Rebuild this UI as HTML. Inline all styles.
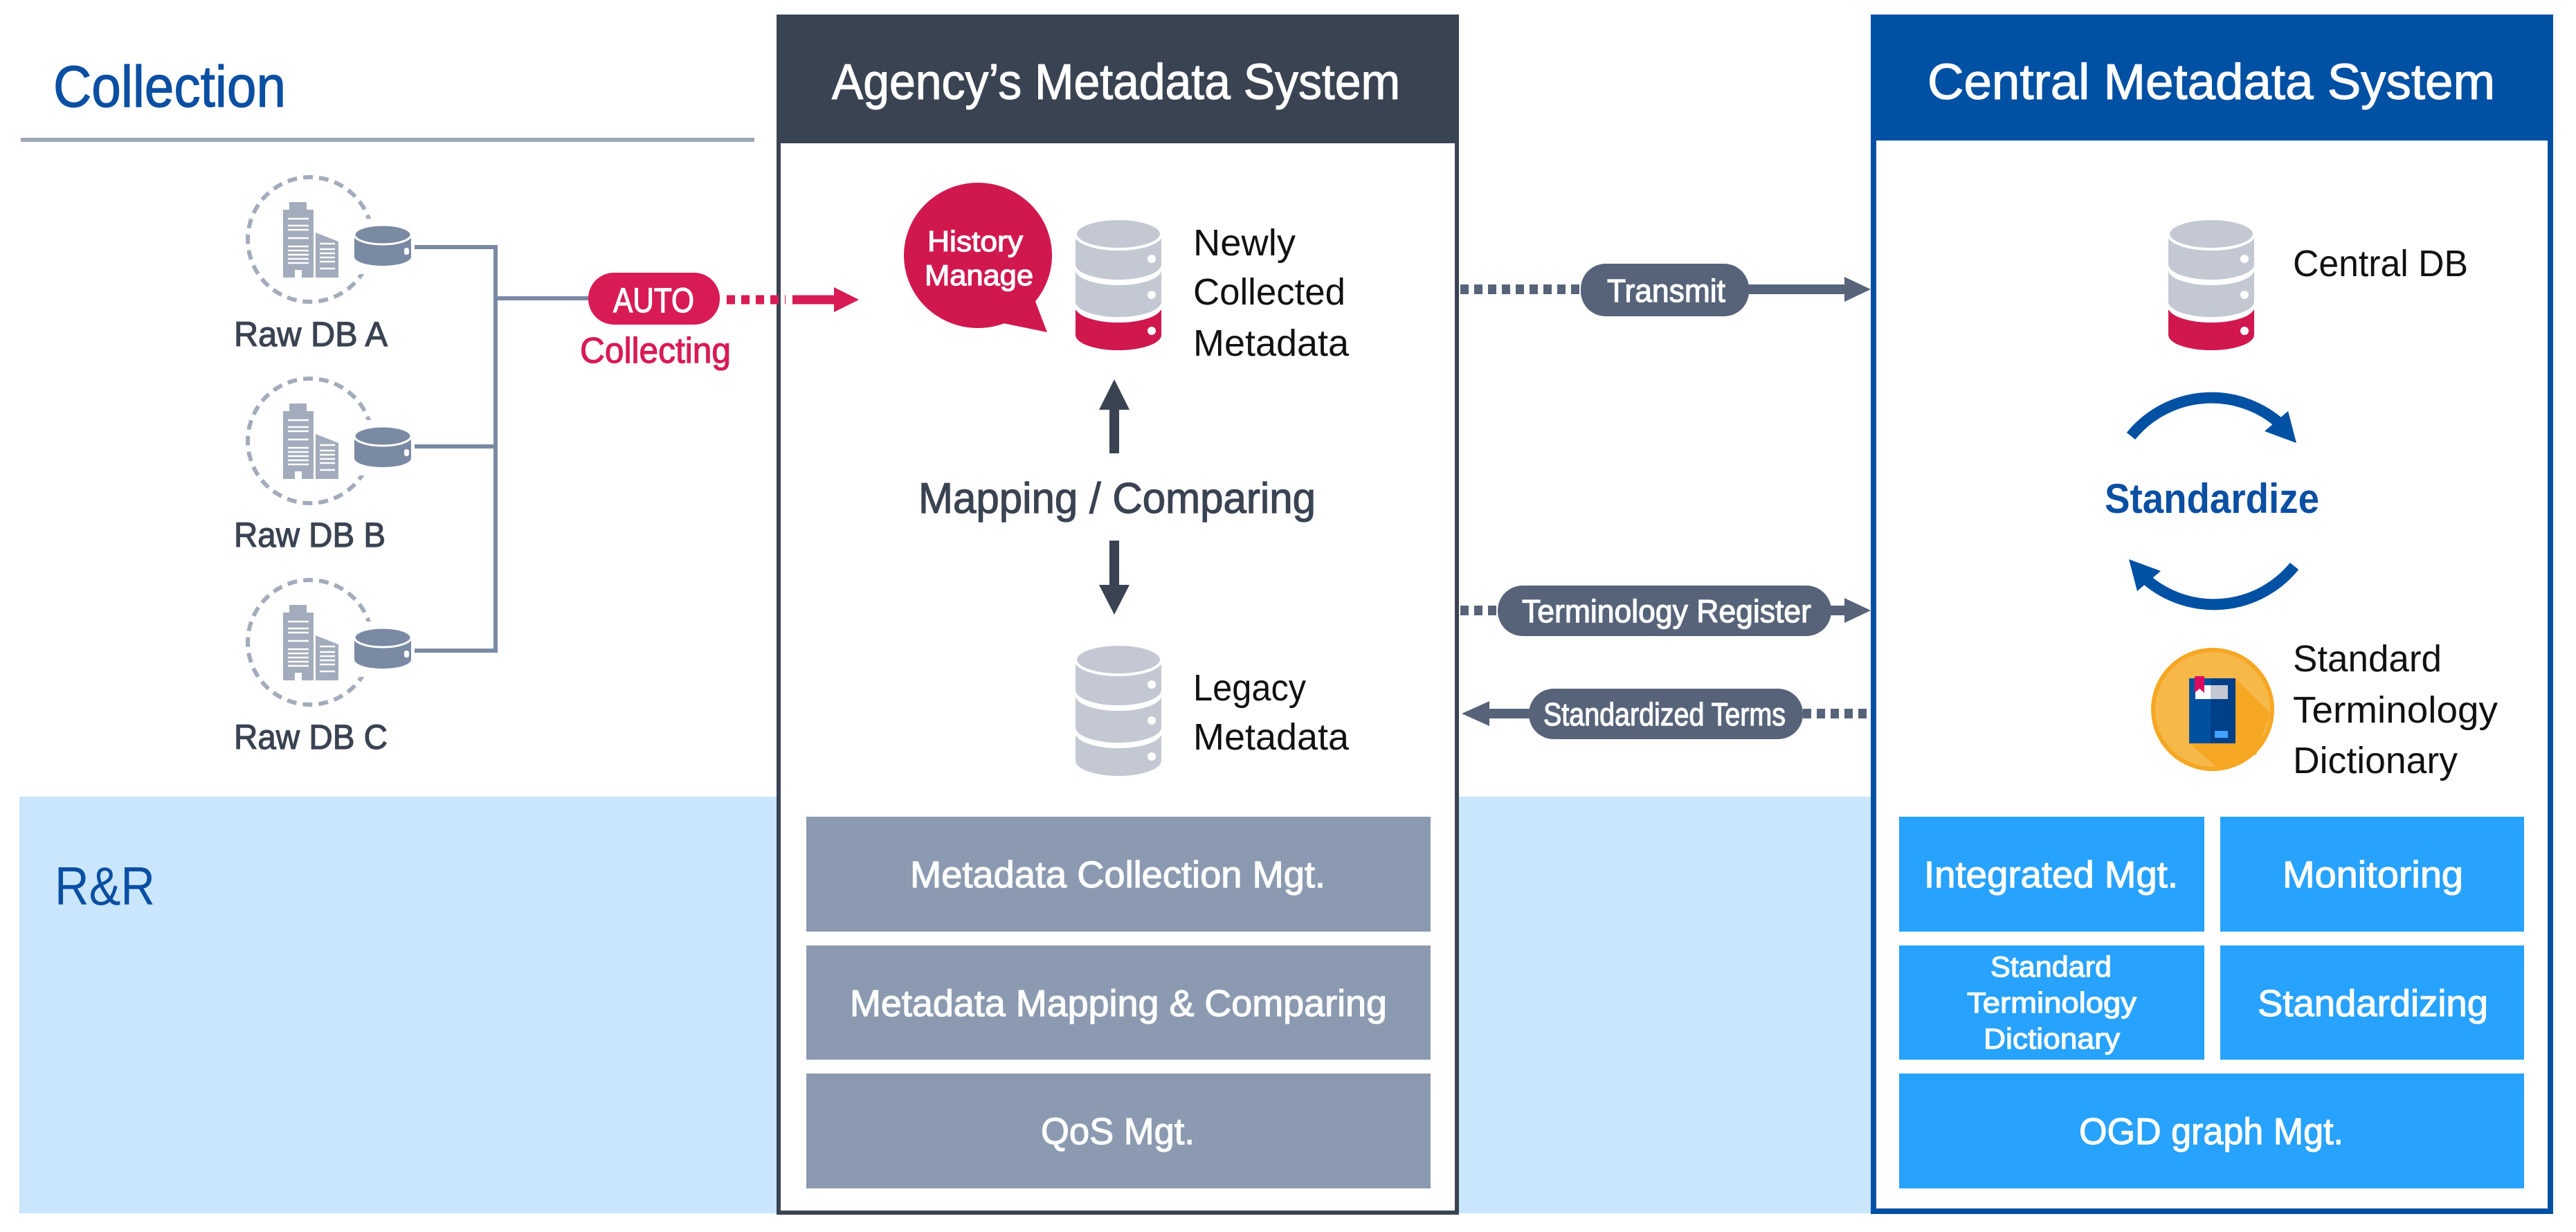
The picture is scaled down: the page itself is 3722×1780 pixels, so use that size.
<!DOCTYPE html>
<html><head><meta charset="utf-8"><style>
html,body{margin:0;padding:0;background:#fff;}
svg{display:block;}
text{font-family:"Liberation Sans",sans-serif;stroke-width:1.2px;}
</style></head><body>
<svg width="3722" height="1780" viewBox="0 0 3722 1780" xmlns="http://www.w3.org/2000/svg">
<defs>
<symbol id="db" viewBox="0 0 124 190" overflow="visible">
  <rect x="0" y="132" width="124" height="36" fill="#d0184f"/>
  <ellipse cx="62" cy="168" rx="62" ry="22" fill="#d0184f"/>
  <ellipse cx="62" cy="128" rx="62" ry="22" fill="#fff"/>
  <rect x="0" y="72" width="124" height="50" fill="#c3c8d2"/>
  <ellipse cx="62" cy="120" rx="62" ry="22" fill="#c3c8d2"/>
  <ellipse cx="62" cy="74" rx="62" ry="22" fill="#fff"/>
  <rect x="0" y="22" width="124" height="44" fill="#c3c8d2"/>
  <ellipse cx="62" cy="66" rx="62" ry="22" fill="#c3c8d2"/>
  <ellipse cx="62" cy="22" rx="62" ry="22" fill="#c3c8d2" stroke="#fff" stroke-width="4"/>
  <circle cx="110" cy="58" r="6" fill="#fff"/>
  <circle cx="110" cy="110" r="6" fill="#fff"/>
  <circle cx="110" cy="162" r="6" fill="#fff"/>
</symbol>
<symbol id="dbg" viewBox="0 0 124 190" overflow="visible">
  <rect x="0" y="132" width="124" height="36" fill="#c3c8d2"/>
  <ellipse cx="62" cy="168" rx="62" ry="22" fill="#c3c8d2"/>
  <ellipse cx="62" cy="128" rx="62" ry="22" fill="#fff"/>
  <rect x="0" y="72" width="124" height="50" fill="#c3c8d2"/>
  <ellipse cx="62" cy="120" rx="62" ry="22" fill="#c3c8d2"/>
  <ellipse cx="62" cy="74" rx="62" ry="22" fill="#fff"/>
  <rect x="0" y="22" width="124" height="44" fill="#c3c8d2"/>
  <ellipse cx="62" cy="66" rx="62" ry="22" fill="#c3c8d2"/>
  <ellipse cx="62" cy="22" rx="62" ry="22" fill="#c3c8d2" stroke="#fff" stroke-width="4"/>
  <circle cx="110" cy="58" r="6" fill="#fff"/>
  <circle cx="110" cy="110" r="6" fill="#fff"/>
  <circle cx="110" cy="162" r="6" fill="#fff"/>
</symbol>
<g id="raw">
  <circle cx="0" cy="0" r="90" fill="none" stroke="#a3acbc" stroke-width="6" stroke-dasharray="14 9"/>
  <rect x="54" y="-30" width="100" height="80" fill="#fff"/>
  <rect x="-30" y="-54" width="25" height="12" fill="#a3acbc"/>
  <rect x="-39" y="-43" width="44" height="98" fill="#a3acbc"/>
  <polygon points="8,-10 41,3 41,55 8,55" fill="#a3acbc"/>
  <g stroke="#fff" stroke-width="2.5">
    <line x1="-32" y1="-30" x2="-2" y2="-30"/><line x1="-32" y1="-20" x2="-2" y2="-20"/>
    <line x1="-32" y1="-14" x2="-2" y2="-14"/><line x1="-32" y1="-2" x2="-2" y2="-2"/>
    <line x1="-32" y1="10" x2="-2" y2="10"/><line x1="-32" y1="16" x2="-2" y2="16"/>
    <line x1="-32" y1="22" x2="-2" y2="22"/><line x1="-32" y1="28" x2="-2" y2="28"/>
    <line x1="-32" y1="34" x2="-2" y2="34"/>
    <line x1="14" y1="6" x2="36" y2="6"/><line x1="14" y1="14" x2="36" y2="14"/>
    <line x1="14" y1="20" x2="36" y2="20"/><line x1="14" y1="26" x2="36" y2="26"/>
    <line x1="14" y1="32" x2="36" y2="32"/><line x1="14" y1="42" x2="36" y2="42"/>
  </g>
  <rect x="-22" y="44" width="10" height="12" fill="#fff"/>
  <rect x="64" y="-7" width="82" height="32" fill="#7a8aa3"/>
  <ellipse cx="105" cy="25" rx="41" ry="13" fill="#7a8aa3"/>
  <ellipse cx="105" cy="-7" rx="41" ry="14" fill="#7a8aa3" stroke="#fff" stroke-width="3"/>
  <rect x="136" y="12" width="7" height="10" rx="3" fill="#fff"/>
</g>
</defs>

<rect x="28" y="1151" width="2675" height="602" fill="#c9e6fc"/>
<rect x="30" y="199" width="1060" height="6" fill="#a0a8b8"/>
<text x="77" y="154" font-size="84" fill="#0b4fa3" stroke="#0b4fa3" textLength="336" lengthAdjust="spacingAndGlyphs">Collection</text>
<text x="79" y="1307" font-size="78" fill="#0b4fa3" textLength="145" lengthAdjust="spacingAndGlyphs">R&amp;R</text>

<use href="#raw" x="448" y="346"/>
<use href="#raw" x="448" y="637"/>
<use href="#raw" x="448" y="928"/>
<g fill="#3a4352" stroke="#3a4352" font-size="50">
<text x="338" y="500" textLength="222" lengthAdjust="spacingAndGlyphs">Raw DB A</text>
<text x="338" y="790" textLength="219" lengthAdjust="spacingAndGlyphs">Raw DB B</text>
<text x="338" y="1082" textLength="222" lengthAdjust="spacingAndGlyphs">Raw DB C</text>
</g>
<g stroke="#7a8aa3" stroke-width="6" fill="none">
<polyline points="599,357 716,357 716,940 599,940"/>
<line x1="599" y1="645" x2="716" y2="645"/>
<line x1="716" y1="431" x2="855" y2="431"/>
</g>
<rect x="850" y="394" width="190" height="75" rx="37" fill="#d81b55"/>
<text x="886" y="451" font-size="50" fill="#fff" stroke="#fff" textLength="117" lengthAdjust="spacingAndGlyphs">AUTO</text>
<text x="838" y="524" font-size="52" fill="#d81b55" stroke="#d81b55" textLength="218" lengthAdjust="spacingAndGlyphs">Collecting</text>

<rect x="1125" y="24" width="980" height="1728" fill="#fff" stroke="#3a4352" stroke-width="6"/>
<rect x="1122" y="21" width="986" height="186" fill="#3a4352"/>
<text x="1202" y="143" font-size="72" fill="#fff" stroke="#fff" textLength="821" lengthAdjust="spacingAndGlyphs">Agency’s Metadata System</text>

<line x1="1050" y1="433" x2="1135" y2="433" stroke="#d81b55" stroke-width="13" stroke-dasharray="12 9"/>
<line x1="1145" y1="433" x2="1210" y2="433" stroke="#d81b55" stroke-width="13"/>
<polygon points="1205,415 1241,433 1205,451" fill="#d81b55"/>

<ellipse cx="1413" cy="369" rx="107" ry="105" fill="#d0184f"/>
<polygon points="1440,465 1513,480 1490,420" fill="#d0184f"/>
<text x="1340" y="363" font-size="42" fill="#fff" stroke="#fff" textLength="138" lengthAdjust="spacingAndGlyphs">History</text>
<text x="1336" y="412" font-size="42" fill="#fff" stroke="#fff" textLength="157" lengthAdjust="spacingAndGlyphs">Manage</text>
<use href="#db" x="1554" y="316" width="124" height="190"/>
<g font-size="54" fill="#111">
<text x="1724" y="369" textLength="148" lengthAdjust="spacingAndGlyphs">Newly</text>
<text x="1724" y="440" textLength="220" lengthAdjust="spacingAndGlyphs">Collected</text>
<text x="1724" y="514" textLength="225" lengthAdjust="spacingAndGlyphs">Metadata</text>
<text x="1724" y="1012" textLength="163" lengthAdjust="spacingAndGlyphs">Legacy</text>
<text x="1724" y="1083" textLength="225" lengthAdjust="spacingAndGlyphs">Metadata</text>
</g>
<rect x="1603" y="585" width="14" height="70" fill="#3a4352"/>
<polygon points="1588,592 1610,548 1632,592" fill="#3a4352"/>
<text x="1327" y="741" font-size="62" fill="#3a4352" stroke="#3a4352" textLength="574" lengthAdjust="spacingAndGlyphs">Mapping / Comparing</text>
<rect x="1603" y="781" width="14" height="68" fill="#3a4352"/>
<polygon points="1588,845 1632,845 1610,888" fill="#3a4352"/>
<use href="#dbg" x="1554" y="931" width="124" height="190"/>

<g fill="#8b9ab0">
<rect x="1165" y="1180" width="902" height="166"/>
<rect x="1165" y="1366" width="902" height="165"/>
<rect x="1165" y="1551" width="902" height="166"/>
</g>
<g font-size="54" fill="#fff" stroke="#fff">
<text x="1315" y="1282" textLength="600" lengthAdjust="spacingAndGlyphs">Metadata Collection Mgt.</text>
<text x="1228" y="1468" textLength="776" lengthAdjust="spacingAndGlyphs">Metadata Mapping &amp; Comparing</text>
<text x="1504" y="1653" textLength="222" lengthAdjust="spacingAndGlyphs">QoS Mgt.</text>
</g>

<g stroke="#566379" stroke-width="14">
<line x1="2110" y1="418" x2="2290" y2="418" stroke-dasharray="12 8"/>
<line x1="2520" y1="418" x2="2670" y2="418"/>
<line x1="2110" y1="882" x2="2170" y2="882" stroke-dasharray="12 8"/>
<line x1="2640" y1="882" x2="2670" y2="882"/>
<line x1="2150" y1="1031" x2="2215" y2="1031"/>
<line x1="2605" y1="1031" x2="2703" y2="1031" stroke-dasharray="12 8"/>
</g>
<g fill="#566379">
<polygon points="2665,400 2703,418 2665,436"/>
<polygon points="2665,864 2703,882 2665,900"/>
<polygon points="2152,1013 2112,1031 2152,1049"/>
<rect x="2284" y="381" width="243" height="76" rx="36"/>
<rect x="2164" y="846" width="482" height="73" rx="36"/>
<rect x="2209" y="995" width="396" height="73" rx="36"/>
</g>
<g font-size="46" fill="#fff" stroke="#fff">
<text x="2322" y="436" textLength="171" lengthAdjust="spacingAndGlyphs">Transmit</text>
<text x="2199" y="899" textLength="418" lengthAdjust="spacingAndGlyphs">Terminology Register</text>
<text x="2230" y="1048" textLength="350" lengthAdjust="spacingAndGlyphs">Standardized Terms</text>
</g>

<rect x="2707" y="25" width="978" height="1725" fill="#fff" stroke="#0050a4" stroke-width="8"/>
<rect x="2703" y="21" width="986" height="182" fill="#0050a4"/>
<text x="2785" y="143" font-size="72" fill="#fff" stroke="#fff" textLength="820" lengthAdjust="spacingAndGlyphs">Central Metadata System</text>
<use href="#db" x="3133" y="316" width="124" height="190"/>
<text x="3313" y="399" font-size="54" fill="#111" textLength="253" lengthAdjust="spacingAndGlyphs">Central DB</text>

<g fill="none" stroke="#0050a4" stroke-width="16">
<path d="M3079,630 A150,150 0 0 1 3292,610"/>
<path d="M3315,818 A150,150 0 0 1 3102,838"/>
</g>
<polygon points="3272,623 3306,594 3318,640" fill="#0050a4"/>
<polygon points="3122,825 3088,854 3076,808" fill="#0050a4"/>
<text x="3041" y="741" font-size="60" font-weight="bold" fill="#0b4fa3" textLength="310" lengthAdjust="spacingAndGlyphs">Standardize</text>

<circle cx="3197" cy="1025" r="86" fill="#f7b84a" stroke="#f6a723" stroke-width="6"/>
<polygon points="3230,980 3280,1030 3260,1090 3205,1110 3163,1074 3230,1074" fill="#f6a723"/>
<rect x="3163" y="980" width="31" height="94" fill="#0050a0"/>
<rect x="3194" y="980" width="36" height="94" fill="#004088"/>
<rect x="3172" y="990" width="47" height="20" fill="#c3c8d2"/>
<rect x="3172" y="990" width="22" height="20" fill="#fff"/>
<polygon points="3171,977 3185,977 3185,1001 3178,995 3171,1001" fill="#dc0a5e"/>
<rect x="3200" y="1056" width="19" height="10" fill="#3fa2ff"/>
<g font-size="54" fill="#111">
<text x="3313" y="970" textLength="215" lengthAdjust="spacingAndGlyphs">Standard</text>
<text x="3313" y="1044" textLength="296" lengthAdjust="spacingAndGlyphs">Terminology</text>
<text x="3313" y="1117" textLength="238" lengthAdjust="spacingAndGlyphs">Dictionary</text>
</g>

<g fill="#27a2fd">
<rect x="2744" y="1180" width="441" height="166"/>
<rect x="3208" y="1180" width="439" height="166"/>
<rect x="2744" y="1366" width="441" height="165"/>
<rect x="3208" y="1366" width="439" height="165"/>
<rect x="2744" y="1551" width="903" height="166"/>
</g>
<g font-size="54" fill="#fff" stroke="#fff">
<text x="2780" y="1282" textLength="367" lengthAdjust="spacingAndGlyphs">Integrated Mgt.</text>
<text x="3298" y="1282" textLength="261" lengthAdjust="spacingAndGlyphs">Monitoring</text>
<text x="3262" y="1468" textLength="333" lengthAdjust="spacingAndGlyphs">Standardizing</text>
<text x="3004" y="1653" textLength="382" lengthAdjust="spacingAndGlyphs">OGD graph Mgt.</text>
</g>
<g font-size="42" fill="#fff" stroke="#fff">
<text x="2876" y="1411" textLength="175" lengthAdjust="spacingAndGlyphs">Standard</text>
<text x="2842" y="1463" textLength="245" lengthAdjust="spacingAndGlyphs">Terminology</text>
<text x="2866" y="1515" textLength="197" lengthAdjust="spacingAndGlyphs">Dictionary</text>
</g>
</svg>
</body></html>
